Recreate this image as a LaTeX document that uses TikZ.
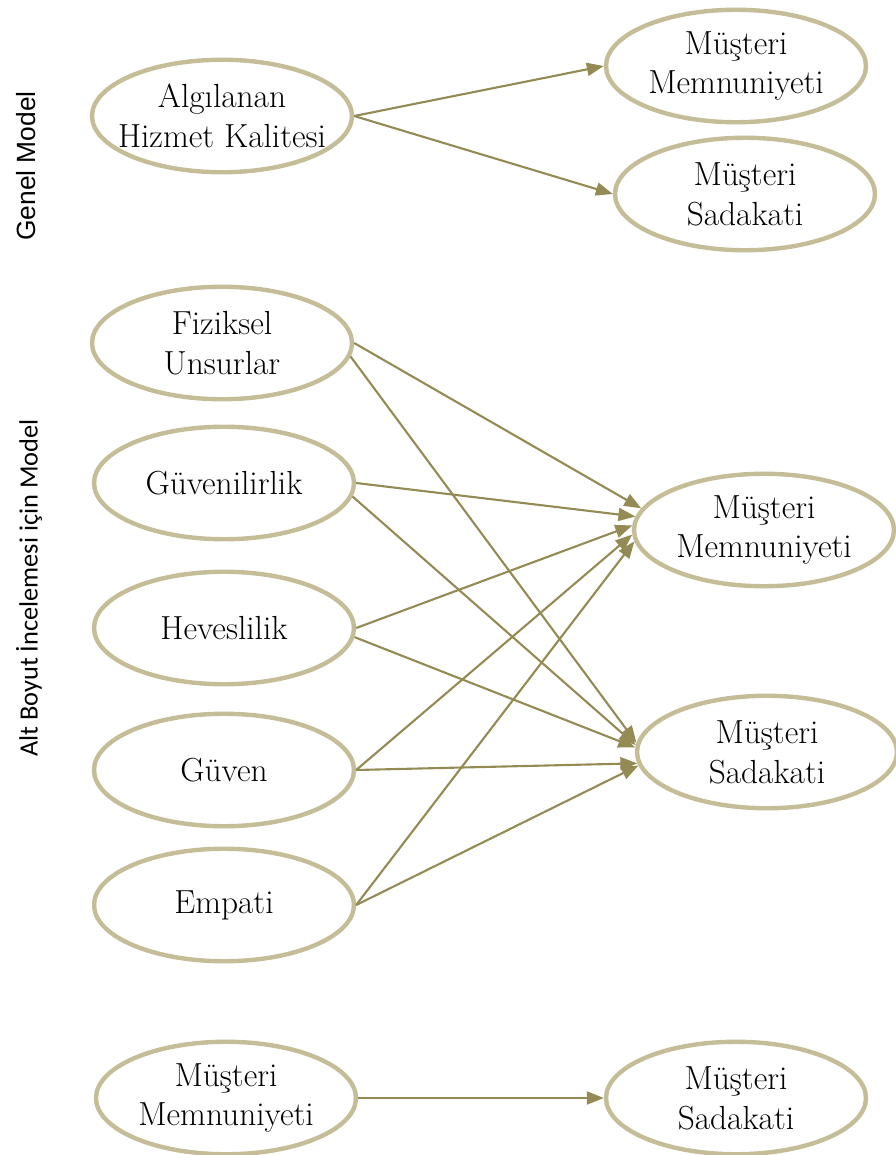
\documentclass[tikz,border=0pt]{standalone}
\usepackage{fontspec}
\newfontfamily\arialfont{Liberation Sans}
\newfontfamily\calibrifont{Carlito}
\usetikzlibrary{shapes.geometric,arrows.meta}

\definecolor{ovalTan}{HTML}{C4BD97}
\definecolor{arrowOlive}{HTML}{948A54}

\tikzset{oval/.style={ellipse,draw=ovalTan,line width=2.5pt,fill=white,
    minimum width=5.2cm,minimum height=2.25cm,inner sep=0pt,align=center,
    font=\fontsize{19}{22.7}\selectfont},
  link/.style={-{Triangle[length=0.34cm,width=0.26cm]},draw=arrowOlive,line width=1.2pt},
  sidetext/.style={rotate=90,font=\fontsize{15}{18}\selectfont}}

\begin{document}
\begin{tikzpicture}[x=0.02cm,y=-0.02cm] % coordinates in pixels of the page
		\useasboundingbox (0,0) rectangle (895,1155);
		
		% side labels
		\node[sidetext] (genel) at (26,166) {\arialfont Genel Model};
		\node[sidetext] (alt) at (29,588) {\calibrifont Alt Boyut İncelemesi için Model};
		
		% general model
		\node[oval,inner xsep=-8pt] (alg) at (222,116) {Algılanan\\Hizmet Kalitesi};
		\node[oval] (mmA) at (736,66) {Müşteri\\Memnuniyeti};
		\node[oval] (msA) at (745,194) {Müşteri\\Sadakati};
		
		\draw[link] (alg.east) -- (mmA.west);
		\draw[link] (alg.east) -- (msA.west);
		
		% sub dimensions
		\node[oval] (fiz) at (222,343) {Fiziksel\\Unsurlar};
		\node[oval] (gvl) at (224,483) {Güvenilirlik};
		\node[oval] (hev) at (224,628) {Heveslilik};
		\node[oval] (gvn) at (224,770) {Güven};
		\node[oval] (emp) at (224,905) {Empati};
		
		\node[oval] (mmB) at (764,530) {Müşteri\\Memnuniyeti};
		\node[oval] (msB) at (767,752) {Müşteri\\Sadakati};
		
		% arrows into satisfaction
		\draw[link] (fiz.east) -- (mmB.170);
		\draw[link] (gvl.east) -- (mmB.174);
		\draw[link] (hev.east) -- (mmB.178);
		\draw[link] (gvn.east) -- (mmB.182);
		\draw[link] (emp.east) -- (mmB.185);
		
		% arrows into loyalty
		\draw[link] (fiz.-6) -- (msB.176);
		\draw[link] (gvl.-6) -- (msB.177);
		\draw[link] (hev.-4) -- (msB.178);
		\draw[link] (gvn.east) -- (msB.185);
		\draw[link] (emp.east) -- (msB.186);
		
		% satisfaction to loyalty
		\node[oval] (mmC) at (226,1098) {Müşteri\\Memnuniyeti};
		\node[oval] (msC) at (736,1098) {Müşteri\\Sadakati};
		
		\draw[link] (mmC.east) -- (msC.west);
\end{tikzpicture}
\end{document}
